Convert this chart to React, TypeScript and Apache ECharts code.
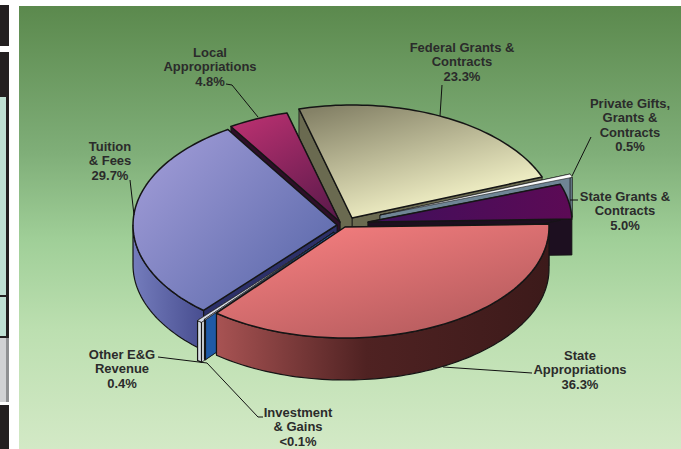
import React, { useEffect, useRef } from "react";
import * as echarts from "echarts";

// Ring order, counter-clockwise from the right-hand side of the pie
const categories = [
  "State Grants &\nContracts",
  "Private Gifts,\nGrants &\nContracts",
  "Federal Grants &\nContracts",
  "Local\nAppropriations",
  "Tuition\n& Fees",
  "Other E&G\nRevenue",
  "Investment\n& Gains",
  "State\nAppropriations",
];
const values = [5.0, 0.5, 23.3, 4.8, 29.7, 0.4, 0.1, 36.3];
const valueLabels = ["5.0%", "0.5%", "23.3%", "4.8%", "29.7%", "0.4%", "<0.1%", "36.3%"];

const START_ANGLE = 1.5;
const RX = 204;
const drawOrder = [2, 3, 1, 0, 4, 5, 6, 7];
const explode = [
  { cx: 368, cy: 222, ry: 113, depth: 36 },
  { cx: 380, cy: 215, ry: 113, depth: 40 },
  { cx: 352, cy: 218, ry: 113, depth: 40 },
  { cx: 340, cy: 222, ry: 113, depth: 40 },
  { cx: 337, cy: 225, ry: 113, depth: 40 },
  { cx: 331, cy: 235, ry: 113, depth: 40 },
  { cx: 334, cy: 232, ry: 113, depth: 40 },
  { cx: 345, cy: 227, ry: 111, depth: 42 },
];
const lin = (x: number, y: number, x2: number, y2: number, a: string, b: string) =>
  new echarts.graphic.LinearGradient(x, y, x2, y2, [
    { offset: 0, color: a },
    { offset: 1, color: b },
  ]);
const pinkWall = new echarts.graphic.LinearGradient(0, 0, 1, 0, [
  { offset: 0, color: "#a85353" },
  { offset: 0.45, color: "#4f2222" },
  { offset: 1, color: "#3c1a1a" },
]);
const faces = [
  { top: lin(0, 0.5, 1, 0.5, "#3f0f5c", "#5c0a55"), wall: "#1d0f20", rim: "#1d0f20" },
  { top: lin(0, 0, 1, 0, "#e8edf0", "#ffffff"), wall: "#6f8595", rim: "#6f8595" },
  { top: lin(0.15, 0, 0.65, 0.9, "#858267", "#f5f4c9"), wall: "#6a6a50", rim: "#6a6a50" },
  { top: lin(0.2, 0, 0.8, 1, "#b7306f", "#5e1a4c"), wall: "#2e0f28", rim: "#2e0f28" },
  { top: lin(0, 0.1, 1, 0.9, "#a29dd8", "#5766a8"), wall: "#2c3068", rim: lin(0, 0, 1, 0, "#747cbc", "#484e90") },
  { top: lin(0, 0, 1, 0, "#d8dce8", "#c8ccd8"), wall: "#d8dfe4", rim: "#d8dfe4" },
  { top: lin(0, 0, 1, 0, "#d8dce8", "#c8ccd8"), wall: "#1f5aa6", rim: "#1f5aa6" },
  { top: lin(0.1, 0.05, 0.8, 1, "#f77f80", "#b25a5c"), wall: "#3c1a1a", rim: pinkWall },
];
const labelPos = [
  [625, 189], [630, 96], [462, 40], [210, 45], [110, 139], [122, 347], [298, 405], [580, 348],
];
const leaders = [
  [[570, 200], [578, 200]],
  [[591, 137], [572, 176]],
  [[442, 85], [440, 116]],
  [[226, 84], [232, 85], [258, 117]],
  [[130, 180], [134, 215]],
  [[158, 357], [207, 363]],
  [[207, 363], [258, 417], [263, 417]],
  [[443, 367], [532, 373]],
];
const leftPanel = [
  [0, 5, 9, 41, "#231f20"],
  [0, 52, 9, 45, "#231f20"],
  [0, 97, 9, 241, "#231f20"],
  [0, 97, 6, 198, "#bfe0d3"],
  [0, 297, 6, 39, "#bfe0d3"],
  [0, 338, 9, 64, "#8f9092"],
  [0, 338, 6, 64, "#d1d2d4"],
  [0, 405, 9, 44, "#231f20"],
];

const total = values.reduce((a, b) => a + b, 0);
const angleOf = (i: number) =>
  START_ANGLE + (values.slice(0, i).reduce((a, b) => a + b, 0) / total) * 360;

function renderSlice(_: any, api: any) {
  const i = api.value(0);
  const v = api.value(1);
  const a0 = angleOf(i);
  const a1 = a0 + (v / total) * 360;
  const { cx, cy, ry, depth } = explode[i];
  const pt = (deg: number, drop = 0) => {
    const r = (deg * Math.PI) / 180;
    return [cx + RX * Math.cos(r), cy - ry * Math.sin(r) + drop];
  };
  const arc = (from: number, to: number, drop = 0) => {
    const n = Math.max(2, Math.ceil(Math.abs(to - from) / 1.5));
    const out: number[][] = [];
    for (let k = 0; k <= n; k++) out.push(pt(from + ((to - from) * k) / n, drop));
    return out;
  };
  const f = faces[i];
  const stroke = "#151515";
  const poly = (points: number[][], fill: any, lw = 1) => ({
    type: "polygon",
    shape: { points },
    style: { fill, stroke, lineWidth: lw, lineJoin: "round" },
  });
  const radial = (deg: number) =>
    poly([[cx, cy], pt(deg), pt(deg, depth), [cx, cy + depth]], f.wall, 0.8);
  const children: any[] = [radial(a0), radial(a1)];
  const f0 = Math.max(a0, 180);
  const f1 = Math.min(a1, 360);
  if (f1 > f0) {
    children.push(poly([...arc(f0, f1), ...arc(f1, f0, depth)], f.rim, 1.2));
  }
  children.push(poly([[cx, cy], ...arc(a0, a1)], f.top, i === 1 || i === 5 || i === 6 ? 0.6 : 1.5));
  return { type: "group", children };
}

export default function App() {
  const ref = useRef<HTMLDivElement>(null);
  useEffect(() => {
    const chart = echarts.init(ref.current!, undefined, { renderer: "svg" });
    const elements: any[] = [
      {
        type: "rect",
        z: -10,
        shape: { x: 19, y: 6, width: 662, height: 443 },
        style: {
          fill: new echarts.graphic.LinearGradient(0, 0, 0, 1, [
            { offset: 0, color: "#5b894d" },
            { offset: 0.33, color: "#7fae78" },
            { offset: 0.53, color: "#a0cf98" },
            { offset: 0.73, color: "#bcdfb0" },
            { offset: 1, color: "#d3e9c6" },
          ]),
        },
      },
      ...leftPanel.map(([x, y, width, height, fill]) => ({
        type: "rect",
        z: -10,
        shape: { x, y, width, height },
        style: { fill },
      })),
      ...leaders.map((points) => ({
        type: "polyline",
        z: 50,
        shape: { points },
        style: { stroke: "#111", lineWidth: 1, fill: "none" },
      })),
      ...categories.map((c, i) => ({
        type: "text",
        z: 50,
        x: labelPos[i][0],
        y: labelPos[i][1],
        style: {
          text: `${c}\n${valueLabels[i]}`,
          fill: "#2b2b2b",
          font: 'bold 13px "Liberation Sans", Arial, sans-serif',
          textAlign: "center",
          textVerticalAlign: "top",
          lineHeight: 14.5,
        },
      })),
    ];
    chart.setOption({
      animation: false,
      graphic: { elements },
      series: [
        {
          type: "custom",
          coordinateSystem: "none",
          renderItem: renderSlice,
          data: drawOrder.map((i) => [i, values[i]]),
          silent: true,
        },
      ],
    });
    return () => chart.dispose();
  }, []);
  return (
    <div
      ref={ref}
      style={{ position: "absolute", left: 0, top: 0, width: 681, height: 449, background: "#fff" }}
    />
  );
}
